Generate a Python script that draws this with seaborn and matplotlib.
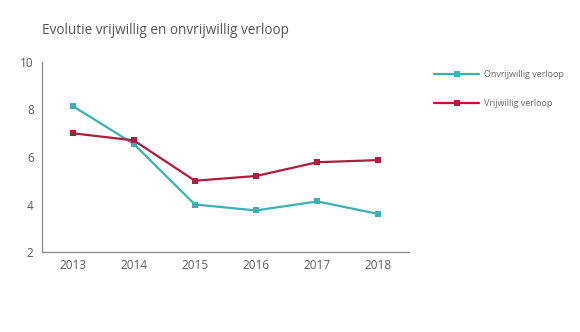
import matplotlib
matplotlib.use("Agg")
import matplotlib.pyplot as plt
import seaborn as sns
import pandas as pd
import numpy as np

years = [2013, 2014, 2015, 2016, 2017, 2018]
onvrijwillig = [8.15, 6.55, 4.0, 3.75, 4.13, 3.6]
vrijwillig = [7.0, 6.7, 5.0, 5.2, 5.78, 5.87]
series_names = ["Onvrijwillig verloop", "Vrijwillig verloop"]
colors = ["#3bb1b5", "#b41a3b"]
y_ticks = [2, 4, 6, 8, 10]

sns.set_style("white")
plt.rcParams['font.family'] = ['Open Sans', 'DejaVu Sans']

df = pd.DataFrame({
    "year": years * 2,
    "value": onvrijwillig + vrijwillig,
    "serie": [series_names[0]] * len(years) + [series_names[1]] * len(years),
})

fig = plt.figure(figsize=(5.8, 3.32), dpi=100)
ax = fig.add_axes([42/580, 1-252/332, (409-42)/580, (252-62)/332])

sns.lineplot(data=df, x="year", y="value", hue="serie", palette=colors,
             marker="s", markersize=4.5, markeredgewidth=0, linewidth=1.6,
             ax=ax, legend=False)

grey = "#8a8a8a"
ax.set_xlim(years[0] - 0.5, years[-1] + 0.5)
ax.set_ylim(2, 10)
ax.set_yticks(y_ticks)
ax.set_xticks(years)
ax.set_xticks([y + 0.5 for y in years], minor=True)
ax.set_xticklabels([str(y) for y in years])
ax.tick_params(axis="x", which="major", length=0, pad=5, labelsize=8.5, labelcolor="#5a5a5a")
ax.tick_params(axis="x", which="minor", direction="in", length=4, color=grey, width=0.8)
ax.tick_params(axis="y", direction="in", length=6, color=grey, width=0.8, pad=6,
               labelsize=8.5, labelcolor="#5a5a5a")
ax.set_xlabel("")
ax.set_ylabel("")
for s in ["top", "right"]:
    ax.spines[s].set_visible(False)
for s in ["left", "bottom"]:
    ax.spines[s].set_color(grey)
    ax.spines[s].set_linewidth(0.9)

fig.text(42/580, 1-30/332, "Evolutie vrijwillig en onvrijwillig verloop",
         fontsize=9.8, color="#555555", va="center", ha="left")

from matplotlib.lines import Line2D
handles = [Line2D([0], [0], color=c, lw=1.6, marker="s", markersize=4.5, markeredgewidth=0)
           for c in colors]
leg = fig.legend(handles, series_names, loc="upper left",
                 bbox_to_anchor=(426/580, 1-62/332), frameon=False,
                 fontsize=6.5, labelcolor="#666666", handlelength=5.0,
                 labelspacing=2.2, handletextpad=0.5)

fig.savefig("out.png", dpi=100)
